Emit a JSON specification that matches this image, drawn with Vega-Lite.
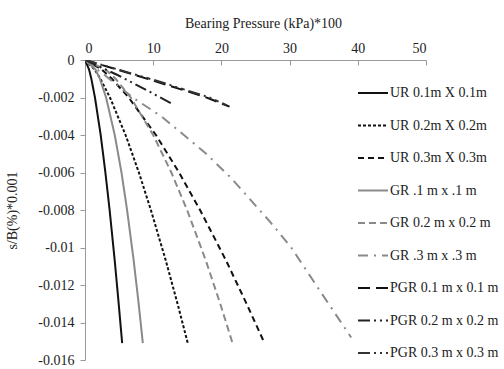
{
  "$schema": "https://vega.github.io/schema/vega-lite/v6.json",
  "width": 341,
  "height": 300,
  "autosize": {"type": "none"},
  "padding": {"left": 85, "top": 60, "right": 78, "bottom": 9},
  "background": "white",
  "config": {
    "view": {"stroke": null},
    "font": "Liberation Serif, Times New Roman, DejaVu Serif, serif"
  },
  "data": {
    "values": [
      {"series": "UR 0.1m X 0.1m", "x": 0, "y": 0},
      {"series": "UR 0.1m X 0.1m", "x": 0.59, "y": -0.0005},
      {"series": "UR 0.1m X 0.1m", "x": 0.93, "y": -0.001},
      {"series": "UR 0.1m X 0.1m", "x": 1.46, "y": -0.002},
      {"series": "UR 0.1m X 0.1m", "x": 2.3, "y": -0.004},
      {"series": "UR 0.1m X 0.1m", "x": 2.99, "y": -0.006},
      {"series": "UR 0.1m X 0.1m", "x": 3.61, "y": -0.008},
      {"series": "UR 0.1m X 0.1m", "x": 4.36, "y": -0.0107},
      {"series": "UR 0.1m X 0.1m", "x": 4.94, "y": -0.013},
      {"series": "UR 0.1m X 0.1m", "x": 5.45, "y": -0.0151},

      {"series": "UR 0.2m X 0.2m", "x": 0, "y": 0},
      {"series": "UR 0.2m X 0.2m", "x": 1.39, "y": -0.0005},
      {"series": "UR 0.2m X 0.2m", "x": 2.25, "y": -0.001},
      {"series": "UR 0.2m X 0.2m", "x": 3.66, "y": -0.002},
      {"series": "UR 0.2m X 0.2m", "x": 5.95, "y": -0.004},
      {"series": "UR 0.2m X 0.2m", "x": 7.9, "y": -0.006},
      {"series": "UR 0.2m X 0.2m", "x": 9.66, "y": -0.008},
      {"series": "UR 0.2m X 0.2m", "x": 11.85, "y": -0.0107},
      {"series": "UR 0.2m X 0.2m", "x": 13.57, "y": -0.013},
      {"series": "UR 0.2m X 0.2m", "x": 15.07, "y": -0.0151},

      {"series": "UR 0.3m X 0.3m", "x": 0, "y": 0},
      {"series": "UR 0.3m X 0.3m", "x": 2.42, "y": -0.0005},
      {"series": "UR 0.3m X 0.3m", "x": 3.94, "y": -0.001},
      {"series": "UR 0.3m X 0.3m", "x": 6.4, "y": -0.002},
      {"series": "UR 0.3m X 0.3m", "x": 10.4, "y": -0.004},
      {"series": "UR 0.3m X 0.3m", "x": 13.79, "y": -0.006},
      {"series": "UR 0.3m X 0.3m", "x": 16.87, "y": -0.008},
      {"series": "UR 0.3m X 0.3m", "x": 20.69, "y": -0.0107},
      {"series": "UR 0.3m X 0.3m", "x": 23.69, "y": -0.013},
      {"series": "UR 0.3m X 0.3m", "x": 26.32, "y": -0.0151},

      {"series": "GR .1 m x .1 m", "x": 0, "y": 0},
      {"series": "GR .1 m x .1 m", "x": 1.54, "y": -0.0005},
      {"series": "GR .1 m x .1 m", "x": 2.18, "y": -0.001},
      {"series": "GR .1 m x .1 m", "x": 3.09, "y": -0.002},
      {"series": "GR .1 m x .1 m", "x": 4.36, "y": -0.004},
      {"series": "GR .1 m x .1 m", "x": 5.35, "y": -0.006},
      {"series": "GR .1 m x .1 m", "x": 6.17, "y": -0.008},
      {"series": "GR .1 m x .1 m", "x": 7.14, "y": -0.0107},
      {"series": "GR .1 m x .1 m", "x": 7.87, "y": -0.013},
      {"series": "GR .1 m x .1 m", "x": 8.48, "y": -0.0151},

      {"series": "GR 0.2 m x 0.2 m", "x": 0, "y": 0},
      {"series": "GR 0.2 m x 0.2 m", "x": 3.0, "y": -0.0005},
      {"series": "GR 0.2 m x 0.2 m", "x": 4.48, "y": -0.001},
      {"series": "GR 0.2 m x 0.2 m", "x": 6.7, "y": -0.002},
      {"series": "GR 0.2 m x 0.2 m", "x": 10.0, "y": -0.004},
      {"series": "GR 0.2 m x 0.2 m", "x": 12.66, "y": -0.006},
      {"series": "GR 0.2 m x 0.2 m", "x": 14.97, "y": -0.008},
      {"series": "GR 0.2 m x 0.2 m", "x": 17.72, "y": -0.0107},
      {"series": "GR 0.2 m x 0.2 m", "x": 19.83, "y": -0.013},
      {"series": "GR 0.2 m x 0.2 m", "x": 21.63, "y": -0.0151},

      {"series": "GR .3 m x .3 m", "x": 0, "y": 0},
      {"series": "GR .3 m x .3 m", "x": 2.86, "y": -0.0008},
      {"series": "GR .3 m x .3 m", "x": 7.0, "y": -0.002},
      {"series": "GR .3 m x .3 m", "x": 11.17, "y": -0.003},
      {"series": "GR .3 m x .3 m", "x": 14.5, "y": -0.004},
      {"series": "GR .3 m x .3 m", "x": 17.77, "y": -0.005},
      {"series": "GR .3 m x .3 m", "x": 21.44, "y": -0.0063},
      {"series": "GR .3 m x .3 m", "x": 24.37, "y": -0.0075},
      {"series": "GR .3 m x .3 m", "x": 27.3, "y": -0.0087},
      {"series": "GR .3 m x .3 m", "x": 30.23, "y": -0.01},
      {"series": "GR .3 m x .3 m", "x": 34.8, "y": -0.0125},
      {"series": "GR .3 m x .3 m", "x": 39.03, "y": -0.0148},

      {"series": "PGR 0.1 m x 0.1 m", "x": 0, "y": 0},
      {"series": "PGR 0.1 m x 0.1 m", "x": 4.08, "y": -0.00044},
      {"series": "PGR 0.1 m x 0.1 m", "x": 10.0, "y": -0.0011},
      {"series": "PGR 0.1 m x 0.1 m", "x": 17.52, "y": -0.00196},
      {"series": "PGR 0.1 m x 0.1 m", "x": 21.19, "y": -0.00249},

      {"series": "PGR 0.2 m x 0.2 m", "x": 0, "y": 0},
      {"series": "PGR 0.2 m x 0.2 m", "x": 4.77, "y": -0.0008},
      {"series": "PGR 0.2 m x 0.2 m", "x": 9.46, "y": -0.00169},
      {"series": "PGR 0.2 m x 0.2 m", "x": 12.6, "y": -0.0023},

      {"series": "PGR 0.3 m x 0.3 m", "x": 0, "y": 0},
      {"series": "PGR 0.3 m x 0.3 m", "x": 2.86, "y": -0.0003},
      {"series": "PGR 0.3 m x 0.3 m", "x": 10.63, "y": -0.00112},
      {"series": "PGR 0.3 m x 0.3 m", "x": 18.26, "y": -0.002},
      {"series": "PGR 0.3 m x 0.3 m", "x": 20.8, "y": -0.00242}
    ]
  },
  "mark": {"type": "line", "strokeWidth": 2, "clip": true},
  "encoding": {
    "x": {
      "field": "x",
      "type": "quantitative",
      "scale": {"domain": [0, 50], "nice": false, "zero": false},
      "axis": {
        "orient": "top",
        "title": "Bearing Pressure (kPa)*100",
        "titleFont": "Liberation Serif, Times New Roman, DejaVu Serif, serif",
        "titleFontWeight": "normal",
        "titleFontSize": 14,
        "titleColor": "#222",
        "titlePadding": 11,
        "titleX": 178,
        "values": [0, 10, 20, 30, 40, 50],
        "format": "d",
        "labelFont": "Liberation Serif, Times New Roman, DejaVu Serif, serif",
        "labelFontSize": 14,
        "labelColor": "#222",
        "labelPadding": 10,
        "tickSize": -5,
        "tickColor": "#999",
        "domainColor": "#999",
        "grid": false
      }
    },
    "y": {
      "field": "y",
      "type": "quantitative",
      "scale": {"domain": [-0.016, 0], "nice": false, "zero": false},
      "axis": {
        "title": "s/B(%)*0.001",
        "titleFont": "Liberation Serif, Times New Roman, DejaVu Serif, serif",
        "titleFontWeight": "normal",
        "titleFontSize": 14,
        "titleColor": "#222",
        "titlePadding": 18,
        "values": [0, -0.002, -0.004, -0.006, -0.008, -0.01, -0.012, -0.014, -0.016],
        "labelExpr": "datum.value == 0 ? '0' : '-' + format(-datum.value, '')",
        "labelFont": "Liberation Serif, Times New Roman, DejaVu Serif, serif",
        "labelFontSize": 14,
        "labelColor": "#222",
        "labelPadding": 6,
        "tickSize": 5,
        "tickColor": "#999",
        "domainColor": "#999",
        "grid": false
      }
    },
    "color": {
      "field": "series",
      "type": "nominal",
      "scale": {
        "domain": ["UR 0.1m X 0.1m", "UR 0.2m X 0.2m", "UR 0.3m X 0.3m", "GR .1 m x .1 m", "GR 0.2 m x 0.2 m", "GR .3 m x .3 m", "PGR 0.1 m x 0.1 m", "PGR 0.2 m x 0.2 m", "PGR 0.3 m x 0.3 m"],
        "range": ["#111111", "#111111", "#111111", "#8a8a8a", "#8a8a8a", "#8a8a8a", "#111111", "#222222", "#333333"]
      },
      "legend": {
        "title": null,
        "orient": "none",
        "legendX": 272,
        "legendY": 17,
        "symbolType": "stroke",
        "symbolSize": 900,
        "symbolStrokeWidth": 2,
        "labelFont": "Liberation Serif, Times New Roman, DejaVu Serif, serif",
        "labelFontSize": 14,
        "labelColor": "#222",
        "labelOffset": 1,
        "rowPadding": 9.5,
        "labelLimit": 200
      }
    },
    "strokeDash": {
      "field": "series",
      "type": "nominal",
      "scale": {
        "domain": ["UR 0.1m X 0.1m", "UR 0.2m X 0.2m", "UR 0.3m X 0.3m", "GR .1 m x .1 m", "GR 0.2 m x 0.2 m", "GR .3 m x .3 m", "PGR 0.1 m x 0.1 m", "PGR 0.2 m x 0.2 m", "PGR 0.3 m x 0.3 m"],
        "range": [[1, 0], [3, 2], [6, 4], [1, 0], [7, 4], [10, 6, 2, 6], [12, 6], [12, 4, 2, 4, 2, 4], [12, 4, 2, 4, 2, 4, 4, 4]]
      }
    }
  }
}
